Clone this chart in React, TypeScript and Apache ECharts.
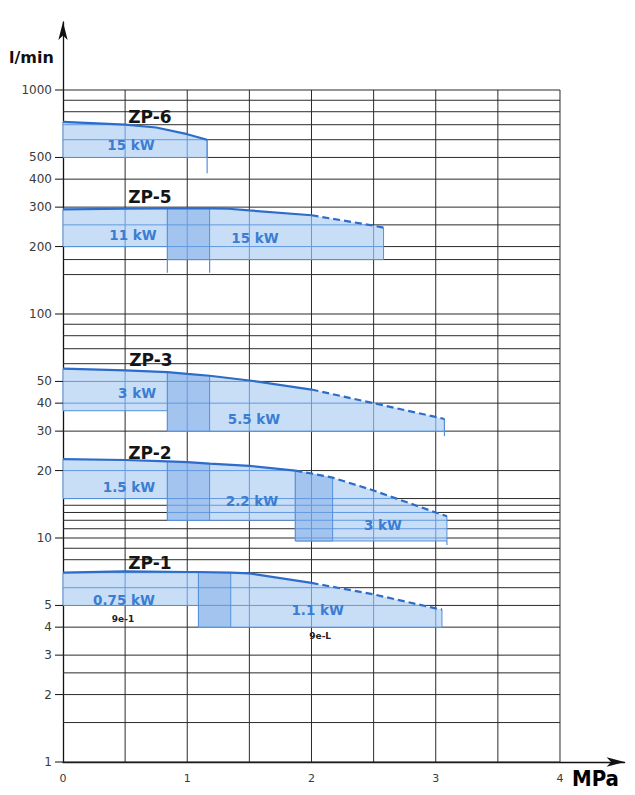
import React, { useEffect, useRef } from 'react';
import * as echarts from 'echarts';

// ---------- axes / grid values ----------
const xTickLabels = [0, 1, 2, 3, 4];
const xGridLines = [0.5, 1, 1.5, 2, 2.5, 3, 3.5, 4];
const yGridLines = [1, 1.5, 2, 2.5, 3, 4, 5, 6, 7, 8, 9, 10, 11, 12, 13, 14, 15, 20, 30, 40, 50, 60, 70, 80, 90, 100, 150, 175, 200, 250, 300, 400, 500, 600, 700, 800, 900, 1000];
const yTickLabels = [1, 2, 3, 4, 5, 10, 20, 30, 40, 50, 100, 200, 300, 400, 500, 1000];

// ---------- pumps ----------
const pumpNames = ['ZP-6', 'ZP-5', 'ZP-3', 'ZP-2', 'ZP-1'];
// max flow (l/min) vs pressure (MPa)
const zp6Curve = [[0, 720], [0.5, 700], [0.75, 680], [1, 635], [1.16, 600]];
const zp5Curve = [[0, 293], [0.5, 295], [0.84, 296], [1, 296], [1.18, 296], [1.33, 295], [1.5, 290], [2, 276], [2.5, 248], [2.58, 243]];
const zp3Curve = [[0, 57], [0.5, 56], [0.84, 55], [1, 54], [1.18, 53], [1.5, 50.5], [2, 46], [2.5, 40], [3.07, 34]];
const zp2Curve = [[0, 22.5], [0.5, 22.3], [0.84, 22], [1, 21.8], [1.18, 21.5], [1.5, 21], [1.87, 20], [2, 19.4], [2.17, 18.6], [2.5, 16.3], [3, 13], [3.09, 12.5]];
const zp1Curve = [[0, 7], [0.5, 7.1], [1, 7.05], [1.09, 7.05], [1.35, 7], [1.5, 6.95], [2, 6.3], [2.5, 5.6], [3, 4.85], [3.05, 4.8]];
const curves = [zp6Curve, zp5Curve, zp3Curve, zp2Curve, zp1Curve];
const solidUntil = [1.16, 2.0, 2.0, 1.87, 2.0];

// motor power zones: [pump index, label, from MPa, to MPa, lowest flow]
const powerZones: [number, string, number, number, number][] = [
  [0, '15 kW', 0, 1.16, 500],
  [1, '11 kW', 0, 1.18, 200],
  [1, '15 kW', 0.84, 2.58, 175],
  [2, '3 kW', 0, 1.18, 37],
  [2, '5.5 kW', 0.84, 3.07, 30],
  [3, '1.5 kW', 0, 1.18, 15],
  [3, '2.2 kW', 0.84, 2.17, 12],
  [3, '3 kW', 1.87, 3.09, 9.7],
  [4, '0.75 kW', 0, 1.35, 5],
  [4, '1.1 kW', 1.09, 3.05, 4],
];
// transition (hatched) zones: [pump index, from MPa, to MPa, lowest flow]
const overlapZones: [number, number, number, number][] = [
  [1, 0.84, 1.18, 175],
  [2, 0.84, 1.18, 30],
  [3, 0.84, 1.18, 12],
  [3, 1.87, 2.17, 9.7],
  [4, 1.09, 1.35, 4],
];
// [MPa, from flow, to flow]
const dropLines = [[1.16, 600, 425], [0.84, 175, 153], [1.18, 175, 153], [3.07, 34, 28.5], [3.09, 9.7, 9.3]];

const pumpNameAnchors = [[0.70, 757], [0.70, 333], [0.708, 62.3], [0.70, 23.9], [0.70, 7.74]];
const kwLabelAnchors = [[0.547, 568], [0.563, 225], [1.545, 218], [0.596, 44.4], [1.537, 34], [0.531, 16.9], [1.521, 14.6], [2.575, 11.4], [0.491, 5.29], [2.05, 4.77]];
const noteLabels = ['9e-1', '9e-L'];
const noteAnchors = [[0.483, 4.35], [2.07, 3.65]];

const C = {
  grid: '#2b2b2b',
  axis: '#111',
  zoneFill: '#c8def6',
  overlapFill: '#a2c4ee',
  innerLine: '#6399df',
  edge: '#5590db',
  curve: '#2d6cc9',
  kw: '#3a7dd3',
  label: '#3a3a3a',
};

function zoneShape(api: any, curve: number[][], x0: number, x1: number, bottom: number, fill: string) {
  const top = curve.filter(p => p[0] >= x0 - 1e-6 && p[0] <= x1 + 1e-6).map(p => api.coord(p));
  const bl = api.coord([x0, bottom]);
  const br = api.coord([x1, bottom]);
  const children: any[] = [];
  children.push({ type: 'polygon', shape: { points: [...top, br, bl] }, style: { fill, stroke: 'none' } });
  xGridLines.forEach(gx => {
    if (gx <= x0 + 1e-6 || gx >= x1 - 1e-6) return;
    const px = api.coord([gx, bottom])[0];
    let ty: number | null = null;
    for (let i = 0; i < top.length - 1; i++) {
      const a = top[i], b = top[i + 1];
      if (px >= a[0] && px <= b[0]) { ty = a[1] + (px - a[0]) / (b[0] - a[0]) * (b[1] - a[1]); break; }
    }
    if (ty == null) return;
    children.push({ type: 'line', shape: { x1: px, y1: bl[1], x2: px, y2: ty }, style: { stroke: C.innerLine, lineWidth: 1 } });
  });
  yGridLines.forEach(gv => {
    const py = api.coord([x0, gv])[1];
    if (py >= bl[1] - 0.5) return;
    for (let i = 0; i < top.length - 1; i++) {
      const a = top[i], b = top[i + 1];
      const aIn = a[1] < py, bIn = b[1] < py;
      let s: number[] | null = null;
      if (aIn && bIn) s = [a[0], b[0]];
      else if (aIn !== bIn) {
        const xc = a[0] + (py - a[1]) / (b[1] - a[1]) * (b[0] - a[0]);
        s = aIn ? [a[0], xc] : [xc, b[0]];
      }
      if (s) children.push({ type: 'line', shape: { x1: s[0], y1: py, x2: s[1], y2: py }, style: { stroke: C.innerLine, lineWidth: 1 } });
    }
  });
  children.push({ type: 'polyline', shape: { points: [top[0], bl, br, top[top.length - 1]] }, style: { stroke: C.edge, lineWidth: 1, fill: 'none' } });
  return { type: 'group', children };
}

function textEl(x: number, y: number, text: string, color: string, size: number, weight: string, align = 'center') {
  return {
    type: 'text', x, y,
    style: {
      text, fill: color, fontSize: size, fontWeight: weight, fontFamily: '"DejaVu Sans", sans-serif',
      align, textAlign: align, verticalAlign: 'middle', textVerticalAlign: 'middle',
    },
  };
}

function buildOption() {
  const series: any[] = [];
  // black grid
  series.push({
    type: 'custom', z: 1, silent: true,
    data: yGridLines.map(v => [0, v]),
    renderItem: (params: any, api: any) => {
      const v = yGridLines[params.dataIndex];
      const a = api.coord([0, v]);
      const b = api.coord([4, v]);
      return { type: 'line', shape: { x1: a[0], y1: a[1], x2: b[0], y2: b[1] }, style: { stroke: C.grid, lineWidth: 1 } };
    },
  });
  series.push({
    type: 'custom', z: 1, silent: true,
    data: xGridLines.map(x => [x, 1]),
    renderItem: (params: any, api: any) => {
      const x = xGridLines[params.dataIndex];
      const a = api.coord([x, 1]);
      const b = api.coord([x, 1000]);
      return { type: 'line', shape: { x1: a[0], y1: a[1], x2: b[0], y2: b[1] }, style: { stroke: C.grid, lineWidth: 1 } };
    },
  });
  // power zones
  series.push({
    type: 'custom', z: 2, silent: true,
    data: powerZones.map(z => [z[2], z[4]]),
    renderItem: (params: any, api: any) => {
      const z = powerZones[params.dataIndex];
      return zoneShape(api, curves[z[0]], z[2], z[3], z[4], C.zoneFill);
    },
  });
  series.push({
    type: 'custom', z: 3, silent: true,
    data: overlapZones.map(z => [z[1], z[3]]),
    renderItem: (params: any, api: any) => {
      const z = overlapZones[params.dataIndex];
      return zoneShape(api, curves[z[0]], z[1], z[2], z[3], C.overlapFill);
    },
  });
  series.push({
    type: 'custom', z: 3, silent: true,
    data: dropLines.map(d => [d[0], d[2]]),
    renderItem: (params: any, api: any) => {
      const d = dropLines[params.dataIndex];
      const a = api.coord([d[0], d[1]]);
      const b = api.coord([d[0], d[2]]);
      return { type: 'line', shape: { x1: a[0], y1: a[1], x2: b[0], y2: b[1] }, style: { stroke: C.edge, lineWidth: 1.2 } };
    },
  });
  // curves
  curves.forEach((curve, i) => {
    const s = solidUntil[i];
    series.push({
      type: 'line', z: 5, silent: true, symbol: 'none',
      data: curve.filter(p => p[0] <= s + 1e-6),
      lineStyle: { color: C.curve, width: 2.2 },
    });
    const dashed = curve.filter(p => p[0] >= s - 1e-6);
    if (dashed.length > 1) {
      series.push({
        type: 'line', z: 5, silent: true, symbol: 'none',
        data: dashed,
        lineStyle: { color: C.curve, width: 2.2, type: [7, 4] },
      });
    }
  });
  // pump names
  series.push({
    type: 'custom', z: 6, silent: true,
    data: pumpNameAnchors,
    renderItem: (params: any, api: any) => {
      const p = api.coord(pumpNameAnchors[params.dataIndex]);
      return textEl(p[0], p[1], pumpNames[params.dataIndex], '#151515', 17, 'bold');
    },
  });
  // kW labels
  series.push({
    type: 'custom', z: 6, silent: true,
    data: kwLabelAnchors,
    renderItem: (params: any, api: any) => {
      const p = api.coord(kwLabelAnchors[params.dataIndex]);
      return textEl(p[0], p[1], powerZones[params.dataIndex][1], C.kw, 13.5, 'bold');
    },
  });
  // notes
  series.push({
    type: 'custom', z: 6, silent: true,
    data: noteAnchors,
    renderItem: (params: any, api: any) => {
      const p = api.coord(noteAnchors[params.dataIndex]);
      return textEl(p[0], p[1], noteLabels[params.dataIndex], '#222', 9, 'bold');
    },
  });
  // y tick labels
  series.push({
    type: 'custom', z: 6, silent: true,
    data: yTickLabels.map(v => [0, v]),
    renderItem: (params: any, api: any) => {
      const v = yTickLabels[params.dataIndex];
      const p = api.coord([0, v]);
      return {
        type: 'group',
        children: [
          { type: 'line', shape: { x1: p[0] - 8, y1: p[1], x2: p[0], y2: p[1] }, style: { stroke: C.axis, lineWidth: 1 } },
          textEl(p[0] - 11, p[1], String(v), C.label, 12, 'normal', 'right'),
        ],
      };
    },
  });

  return {
    animation: false,
    backgroundColor: '#ffffff',
    grid: { left: 63, right: 10.4, top: 22, bottom: 33, containLabel: false, outerBoundsMode: 'none' },
    xAxis: {
      type: 'value', min: 0, max: 4.52, interval: 1,
      axisLine: { show: true, onZero: false, symbol: ['none', 'arrow'], symbolSize: [7, 18], lineStyle: { color: C.axis, width: 1.3 } },
      axisTick: { show: false },
      splitLine: { show: false },
      axisLabel: {
        show: true, margin: 11, color: C.label, fontSize: 11, fontFamily: '"DejaVu Sans", sans-serif',
        showMaxLabel: true,
        formatter: (v: number) => (xTickLabels.indexOf(v) >= 0 ? String(v) : ''),
      },
    },
    yAxis: {
      type: 'log', logBase: 10, min: 1, max: 2012,
      axisLine: { show: true, onZero: false, symbol: ['none', 'arrow'], symbolSize: [7, 18], lineStyle: { color: C.axis, width: 1.3 } },
      axisTick: { show: false },
      splitLine: { show: false },
      axisLabel: { show: false },
    },
    graphic: [
      { type: 'text', left: 9, top: 49, style: { text: 'l/min', fill: '#111', fontSize: 16, fontWeight: 'bold', fontFamily: '"DejaVu Sans", sans-serif' } },
      { type: 'text', left: 572, top: 767, style: { text: 'MPa', fill: '#000', fontSize: 22, fontWeight: 'bold', fontFamily: '"Liberation Sans Narrow", "DejaVu Sans Condensed", "Arial Narrow", "Liberation Sans", sans-serif' } },
    ],
    series,
  };
}

export default function App() {
  const ref = useRef<HTMLDivElement>(null);
  useEffect(() => {
    if (!ref.current) return;
    const chart = echarts.init(ref.current, null, { renderer: 'svg' });
    chart.setOption(buildOption() as any);
    return () => chart.dispose();
  }, []);
  return (
    <div
      ref={ref}
      style={{ position: 'fixed', left: 0, top: 0, width: 635, height: 795, background: '#fff' }}
    />
  );
}
